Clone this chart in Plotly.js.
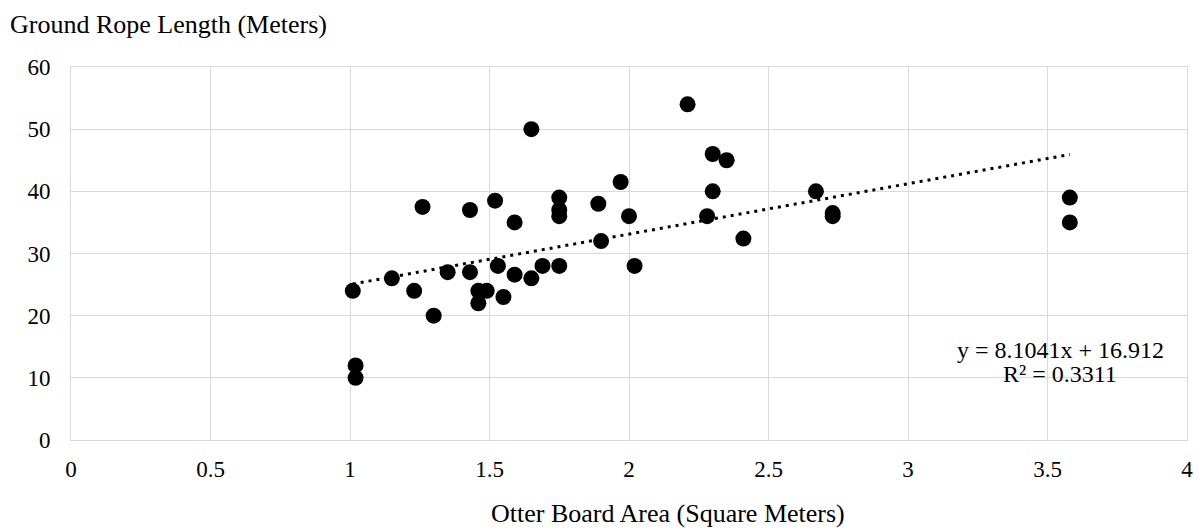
<!DOCTYPE html>
<html>
<head>
<meta charset="utf-8">
<script src="https://cdn.plot.ly/plotly-3.0.1.min.js"></script>
<style>html,body{margin:0;padding:0;background:#fff;}#chart{width:1198px;height:529px;}</style>
</head>
<body>
<div id="chart"></div>
<script>
// Data
const boardArea = [1.01, 1.02, 1.02, 1.15, 1.23, 1.26, 1.30, 1.35, 1.43, 1.43,
                   1.46, 1.49, 1.46, 1.52, 1.53, 1.55, 1.59, 1.59, 1.65, 1.65,
                   1.69, 1.75, 1.75, 1.75, 1.75, 1.89, 1.90, 1.97, 2.00, 2.02,
                   2.21, 2.30, 2.35, 2.30, 2.28, 2.41, 2.67, 2.73, 2.73, 3.58, 3.58];
const ropeLength = [24, 12, 10, 26, 24, 37.5, 20, 27, 37, 27,
                    24, 24, 22, 38.5, 28, 23, 35, 26.6, 26, 50,
                    28, 39, 37, 36, 28, 38, 32, 41.5, 36, 28,
                    54, 46, 45, 40, 36, 32.4, 40, 36.5, 36, 39, 35];
const trendSlope = 8.1041;
const trendIntercept = 16.912;
const rSquared = 0.3311;
const xTicks = [0, 0.5, 1, 1.5, 2, 2.5, 3, 3.5, 4];
const xTickLabels = ['0', '0.5', '1', '1.5', '2', '2.5', '3', '3.5', '4'];
const yTicks = [0, 10, 20, 30, 40, 50, 60];

const xMin = Math.min(...boardArea), xMax = Math.max(...boardArea);
const trendX = [xMin, xMax];
const trendY = trendX.map(v => trendSlope * v + trendIntercept);

const fam = 'Liberation Serif, Times New Roman, serif';
const titleFont = {family: fam, size: 26, color: '#000'};
const tickFont = {family: fam, size: 23, color: '#000'};
const noteFont = {family: fam, size: 24, color: '#000'};

const traces = [
  {x: trendX, y: trendY, type: 'scatter', mode: 'lines',
   line: {color: '#000', width: 3, dash: '3px,5px'}, hoverinfo: 'skip', showlegend: false},
  {x: boardArea, y: ropeLength, type: 'scatter', mode: 'markers',
   marker: {color: '#000', size: 16}, showlegend: false}
];

const H = 529, W = 1198;
const layout = {
  width: W, height: H,
  margin: {l: 71, r: 11, t: 67, b: 89},
  paper_bgcolor: '#fff', plot_bgcolor: '#fff',
  font: tickFont,
  showlegend: false,
  title: {text: 'Ground Rope Length (Meters)', font: titleFont,
          x: 10/W, xref: 'container', xanchor: 'left',
          y: 1 - 24/H, yref: 'container', yanchor: 'middle'},
  xaxis: {range: [0, 4], tickvals: xTicks, ticktext: xTickLabels,
          showgrid: true, gridcolor: '#d9d9d9', gridwidth: 1,
          zeroline: false, showline: true, linecolor: '#d9d9d9', linewidth: 1, mirror: true,
          ticks: '', ticklabelstandoff: 8, tickfont: tickFont},
  yaxis: {range: [0, 60], tickvals: yTicks,
          showgrid: true, gridcolor: '#d9d9d9', gridwidth: 1,
          zeroline: false, showline: true, linecolor: '#d9d9d9', linewidth: 1, mirror: true,
          ticks: '', ticklabelstandoff: 15, tickfont: tickFont},
  annotations: [
    {text: 'Otter Board Area (Square Meters)', xref: 'paper', yref: 'paper',
     x: (490 - 71) / 1116, y: -(513 - 440) / 373, xanchor: 'left', yanchor: 'middle',
     showarrow: false, font: titleFont, borderpad: 0},
    {text: 'y = ' + trendSlope + 'x + ' + trendIntercept,
     xref: 'paper', yref: 'paper', x: (1060 - 71) / 1116, y: (440 - 350) / 373,
     xanchor: 'center', yanchor: 'middle', showarrow: false, font: noteFont, borderpad: 0},
    {text: 'R² = ' + rSquared,
     xref: 'paper', yref: 'paper', x: (1060 - 71) / 1116, y: (440 - 374) / 373,
     xanchor: 'center', yanchor: 'middle', showarrow: false, font: noteFont, borderpad: 0}
  ]
};

Plotly.newPlot('chart', traces, layout, {displayModeBar: false, staticPlot: true});
</script>
</body>
</html>
